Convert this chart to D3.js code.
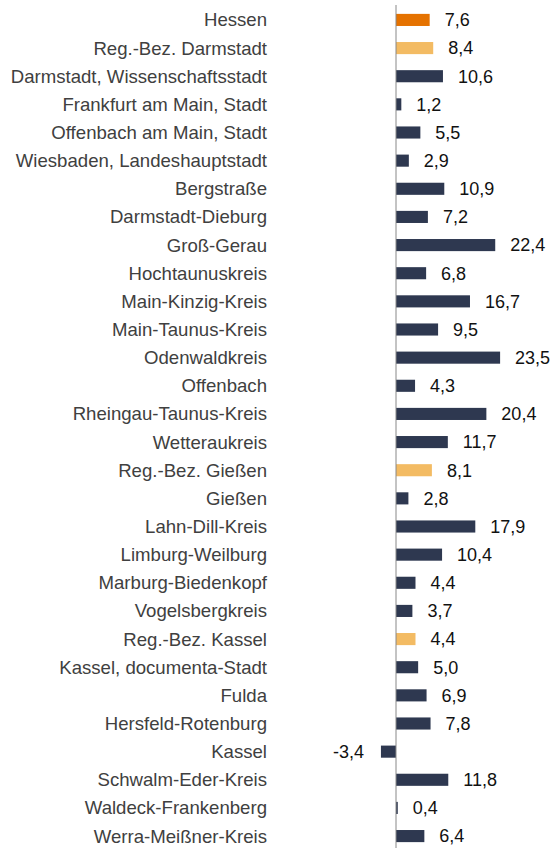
<!DOCTYPE html>
<html><head><meta charset="utf-8">
<script src="https://cdn.jsdelivr.net/npm/d3@7/dist/d3.min.js"></script>
<style>body{margin:0;background:#fff}svg{display:block}</style>
</head><body>
<script>
const categories = ["Hessen","Reg.-Bez. Darmstadt","Darmstadt, Wissenschaftsstadt","Frankfurt am Main, Stadt","Offenbach am Main, Stadt","Wiesbaden, Landeshauptstadt","Bergstraße","Darmstadt-Dieburg","Groß-Gerau","Hochtaunuskreis","Main-Kinzig-Kreis","Main-Taunus-Kreis","Odenwaldkreis","Offenbach","Rheingau-Taunus-Kreis","Wetteraukreis","Reg.-Bez. Gießen","Gießen","Lahn-Dill-Kreis","Limburg-Weilburg","Marburg-Biedenkopf","Vogelsbergkreis","Reg.-Bez. Kassel","Kassel, documenta-Stadt","Fulda","Hersfeld-Rotenburg","Kassel","Schwalm-Eder-Kreis","Waldeck-Frankenberg","Werra-Meißner-Kreis"];
const values = [7.6,8.4,10.6,1.2,5.5,2.9,10.9,7.2,22.4,6.8,16.7,9.5,23.5,4.3,20.4,11.7,8.1,2.8,17.9,10.4,4.4,3.7,4.4,5.0,6.9,7.8,-3.4,11.8,0.4,6.4];
const levels = ["land","rb","k","k","k","k","k","k","k","k","k","k","k","k","k","k","rb","k","k","k","k","k","rb","k","k","k","k","k","k","k"];
const colors = {land:"#E57200", rb:"#F3BB63", k:"#2E3850"};

const W = 553, H = 848;
const FONT = "'Liberation Sans', Arial, Helvetica, sans-serif";
const svg = d3.select("body").append("svg").attr("width", W).attr("height", H);
const x0 = 396, pxPerUnit = 4.43;
const x = d3.scaleLinear().domain([0, 1]).range([x0, x0 + pxPerUnit]);
const y = d3.scaleBand().domain(categories).range([6, 850]).paddingInner(0.57).paddingOuter(0.28);

const data = categories.map((c, i) => ({c, v: values[i], l: levels[i]}));

svg.selectAll("rect.bar").data(data).join("rect")
  .attr("class", "bar")
  .attr("x", d => Math.min(x(0), x(d.v)))
  .attr("width", d => Math.abs(x(d.v) - x(0)))
  .attr("y", d => y(d.c))
  .attr("height", y.bandwidth())
  .attr("fill", d => colors[d.l]);

svg.append("line").attr("x1", x(0)).attr("x2", x(0)).attr("y1", 5).attr("y2", H)
  .attr("stroke", "#888").attr("stroke-width", 1);

svg.selectAll("text.cat").data(data).join("text")
  .attr("class", "cat")
  .attr("x", 267)
  .attr("y", d => y(d.c) + y.bandwidth() / 2)
  .attr("dy", "0.35em")
  .attr("text-anchor", "end")
  .style("font-family", FONT)
  .style("font-size", "18.6px")
  .attr("fill", "#404040")
  .text(d => d.c);

const fmt = v => d3.format(".1f")(v).replace("\u2212", "-").replace(".", ",");
svg.selectAll("text.val").data(data).join("text")
  .attr("class", "val")
  .attr("x", d => d.v >= 0 ? x(d.v) + 15 : x(d.v) - 17)
  .attr("y", d => y(d.c) + y.bandwidth() / 2)
  .attr("dy", "0.35em")
  .attr("text-anchor", d => d.v >= 0 ? "start" : "end")
  .style("font-family", FONT)
  .style("font-size", "18px")
  .attr("fill", "#111")
  .text(d => fmt(d.v));
</script>
</body></html>
